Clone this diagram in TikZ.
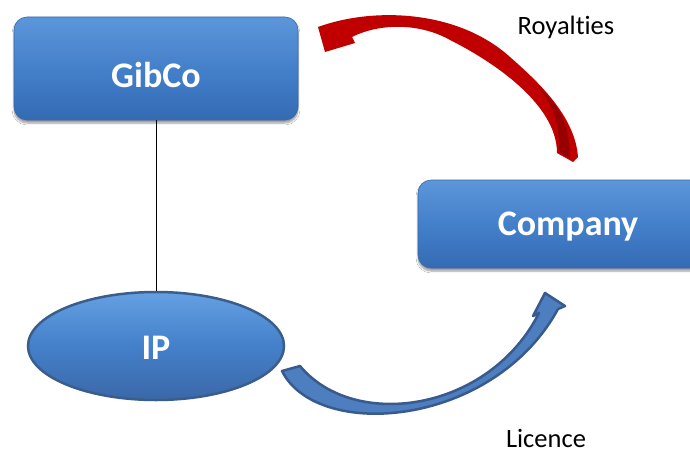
\documentclass[tikz,border=0pt]{standalone}
\usepackage{fontspec}
\setmainfont{Carlito}[Ligatures=NoCommon]
\usetikzlibrary{shapes.geometric,shadows.blur}
\definecolor{boxtop}{RGB}{92,150,218}
\definecolor{boxmid}{RGB}{68,128,202}
\definecolor{boxbot}{RGB}{52,106,180}
\definecolor{boxline}{RGB}{58,104,168}
\definecolor{elltop}{RGB}{100,160,225}
\definecolor{ellbot}{RGB}{58,104,168}
\definecolor{ellline}{RGB}{58,94,140}
\definecolor{arrred}{RGB}{192,0,0}
\definecolor{arrdark}{RGB}{150,0,0}
\definecolor{arrblue}{RGB}{76,126,192}
\definecolor{arrblueline}{RGB}{56,90,140}
\begin{document}
\begin{tikzpicture}[x=1pt,y=-1pt,
  boxstyle/.style={rectangle, rounded corners=13pt, inner sep=0pt,
    top color=boxtop, bottom color=boxbot, middle color=boxmid,
    draw=boxline, line width=0.6pt,
    blur shadow={shadow blur steps=6, shadow xshift=0pt, shadow yshift=-3pt, shadow opacity=40}},
  ellstyle/.style={ellipse, inner sep=0pt, top color=elltop, bottom color=ellbot, middle color=boxmid,
    draw=ellline, line width=2.5pt},
  boxtext/.style={text=white, font=\fontsize{36}{40}\selectfont\bfseries, inner sep=0pt},
  labeltext/.style={text=black, font=\fontsize{26.5}{30}\selectfont, inner sep=0pt},
  link/.style={draw=black, line width=1pt}
]
\useasboundingbox (0,0) rectangle (690,452);
\fill[white] (0,0) rectangle (690,452);

% boxes
\node[boxstyle, minimum width=284pt, minimum height=103pt] (gibco) at (156,68.5) {};
\node[boxstyle, minimum width=300pt, minimum height=88pt] (company) at (568,224) {};
\node[ellstyle, minimum width=256pt, minimum height=108pt] (ip) at (156,346) {};

\node[boxtext] (gibcoT) at (156,75) {GibCo};
\node[boxtext] (companyT) at (568,227) {Company};
\node[boxtext] (ipT) at (156,348) {IP};

% connector
\draw[link] (gibco.south) -- (ip.north);

% red curved arrow (royalties)
\fill[arrred] (318,27) -- (325,52) -- (355,43) -- (352,37)
  .. controls (382,22) and (422,24) .. (450,40)
  .. controls (490,60) and (557,103) .. (557,153)
  -- (573,162) -- (578,157)
  .. controls (575,115) and (536,80) .. (510,57)
  .. controls (458,10) and (374,6.6) .. (318,27) -- cycle;
\fill[arrdark] (559,152) .. controls (560,125) and (553,103) .. (537,86)
  .. controls (560,104) and (570,128) .. (570,158) -- cycle;

% blue curved arrow (licence)
\filldraw[fill=arrblue, draw=arrblueline, line width=2.5pt, line join=round]
  (300,366) .. controls (354,431) and (489,412) .. (539,313)
  -- (533,316) -- (545,293) -- (565,306) -- (558,309)
  .. controls (493,428) and (317,441) .. (282,371) -- cycle;

% labels
\node[labeltext] (royal) at (566,27) {Royalties};
\node[labeltext] (lic) at (546,438) {Licence};
\end{tikzpicture}
\end{document}
